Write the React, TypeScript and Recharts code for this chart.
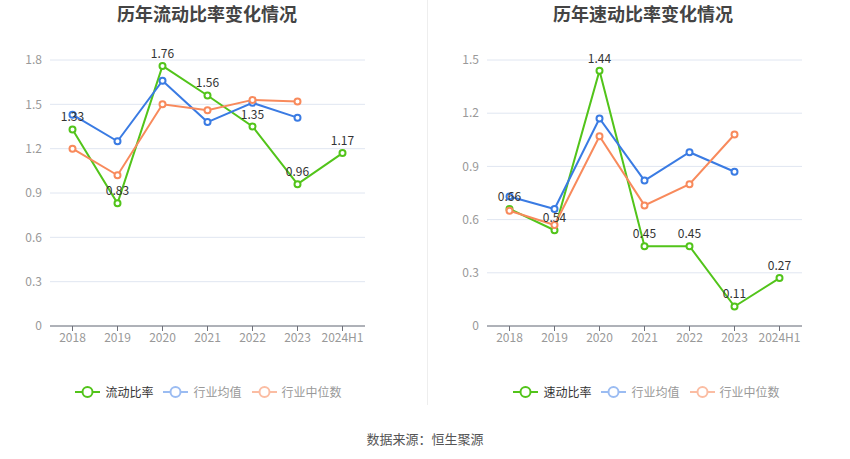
import React from "react";
import { LineChart, Line, XAxis, YAxis, CartesianGrid, LabelList } from "recharts";

const categories = ["2018", "2019", "2020", "2021", "2022", "2023", "2024H1"];

const currentRatio = [1.33, 0.83, 1.76, 1.56, 1.35, 0.96, 1.17];
const currentIndustryAvg = [1.43, 1.25, 1.66, 1.38, 1.51, 1.41, null];
const currentIndustryMedian = [1.2, 1.02, 1.5, 1.46, 1.53, 1.52, null];

const quickRatio = [0.66, 0.54, 1.44, 0.45, 0.45, 0.11, 0.27];
const quickIndustryAvg = [0.73, 0.66, 1.17, 0.82, 0.98, 0.87, null];
const quickIndustryMedian = [0.65, 0.57, 1.07, 0.68, 0.8, 1.08, null];

const leftTicks = [0, 0.3, 0.6, 0.9, 1.2, 1.5, 1.8];
const rightTicks = [0, 0.3, 0.6, 0.9, 1.2, 1.5];

const GREEN = "#52c41a";
const BLUE = "#3a7be3";
const ORANGE = "#f88a5c";

function buildRows(a: (number | null)[], b: (number | null)[], c: (number | null)[]) {
  return categories.map((cat, i) => ({ cat, main: a[i], avg: b[i], med: c[i] }));
}

const legendItems = (mainName: string) => [
  { name: mainName, color: GREEN, text: "#333" },
  { name: "行业均值", color: "#9bbcf2", text: "#999" },
  { name: "行业中位数", color: "#fbbda3", text: "#999" },
];

function LegendContent({ mainName }: { mainName: string }) {
  return (
    <div style={{ display: "flex", justifyContent: "center", alignItems: "center", fontSize: 12 }}>
      {legendItems(mainName).map((it) => (
        <div key={it.name} style={{ display: "flex", alignItems: "center", marginRight: 10 }}>
          <svg width={25} height={14} style={{ marginRight: 5 }}>
            <line x1={0} y1={7} x2={25} y2={7} stroke={it.color} strokeWidth={2} />
            <circle cx={12.5} cy={7} r={5} fill="#fff" stroke={it.color} strokeWidth={2} />
          </svg>
          <span style={{ color: it.text }}>{it.name}</span>
        </div>
      ))}
    </div>
  );
}

function Panel(props: {
  title: string;
  mainName: string;
  rows: any[];
  ticks: number[];
  max: number;
  yWidth: number;
  right: number;
  titleX: number;
  legendX: number;
}) {
  const { title, mainName, rows, ticks, max, yWidth, right, titleX, legendX } = props;
  return (
    <div style={{ position: "relative", width: 425, height: 405 }}>
      <div
        style={{
          position: "absolute",
          top: 0,
          left: titleX - 150,
          width: 300,
          textAlign: "center",
          fontSize: 18,
          fontWeight: "bold",
          color: "#444",
          fontFamily: "'Noto Sans CJK SC', sans-serif",
        }}
      >
        {title}
      </div>
      <LineChart
        width={425}
        height={360}
        data={rows}
        margin={{ top: 60, right: right, left: 0, bottom: 0 }}
        style={{ fontFamily: "'Noto Sans CJK SC', 'Noto Sans', sans-serif" }}
      >
        <CartesianGrid horizontal vertical={false} stroke="#e0e6f1" />
        <XAxis
          dataKey="cat"
          tickLine={{ stroke: "#6e7079" }}
          axisLine={{ stroke: "#6e7079" }}
          tick={{ fill: "#999", fontSize: 12 }}
          tickSize={5}
          height={34}
          interval={0}
          padding={{ left: 22.5, right: 22.5 }}
        />
        <YAxis
          width={yWidth}
          domain={[0, max]}
          ticks={ticks}
          axisLine={false}
          tickLine={false}
          tick={{ fill: "#999", fontSize: 12 }}
          tickMargin={2}
        />
        <Line
          dataKey="main"
          name={mainName}
          stroke={GREEN}
          strokeWidth={2}
          dot={{ r: 3, fill: "#fff", stroke: GREEN, strokeWidth: 2 }}
          isAnimationActive={false}
        >
          <LabelList dataKey="main" position="top" offset={8} fill="#333" fontSize={12} />
        </Line>
        <Line
          dataKey="avg"
          name="行业均值"
          stroke={BLUE}
          strokeWidth={2}
          dot={{ r: 3, fill: "#fff", stroke: BLUE, strokeWidth: 2 }}
          isAnimationActive={false}
        />
        <Line
          dataKey="med"
          name="行业中位数"
          stroke={ORANGE}
          strokeWidth={2}
          dot={{ r: 3, fill: "#fff", stroke: ORANGE, strokeWidth: 2 }}
          isAnimationActive={false}
        />
      </LineChart>
      <div style={{ position: "absolute", top: 383, left: legendX - 212, width: 425 }}>
        <LegendContent mainName={mainName} />
      </div>
    </div>
  );
}

export default function App() {
  return (
    <div
      style={{
        position: "fixed",
        top: 0,
        left: 0,
        width: 850,
        height: 459,
        background: "#fff",
        fontFamily: "'Noto Sans CJK SC', sans-serif",
      }}
    >
      <div style={{ display: "flex" }}>
        <Panel
          title="历年流动比率变化情况"
          mainName="流动比率"
          rows={buildRows(currentRatio, currentIndustryAvg, currentIndustryMedian)}
          ticks={leftTicks}
          max={1.8}
          yWidth={50}
          right={60}
          titleX={207}
          legendX={213}
        />
        <Panel
          title="历年速动比率变化情况"
          mainName="速动比率"
          rows={buildRows(quickRatio, quickIndustryAvg, quickIndustryMedian)}
          ticks={rightTicks}
          max={1.5}
          yWidth={62}
          right={48}
          titleX={218}
          legendX={226}
        />
      </div>
      <div style={{ position: "absolute", left: 427, top: 0, width: 1, height: 405, background: "#eeeeee" }} />
      <div
        style={{
          position: "absolute",
          top: 429,
          left: 0,
          width: 850,
          textAlign: "center",
          fontSize: 13,
          color: "#555",
        }}
      >
        数据来源：恒生聚源
      </div>
    </div>
  );
}
